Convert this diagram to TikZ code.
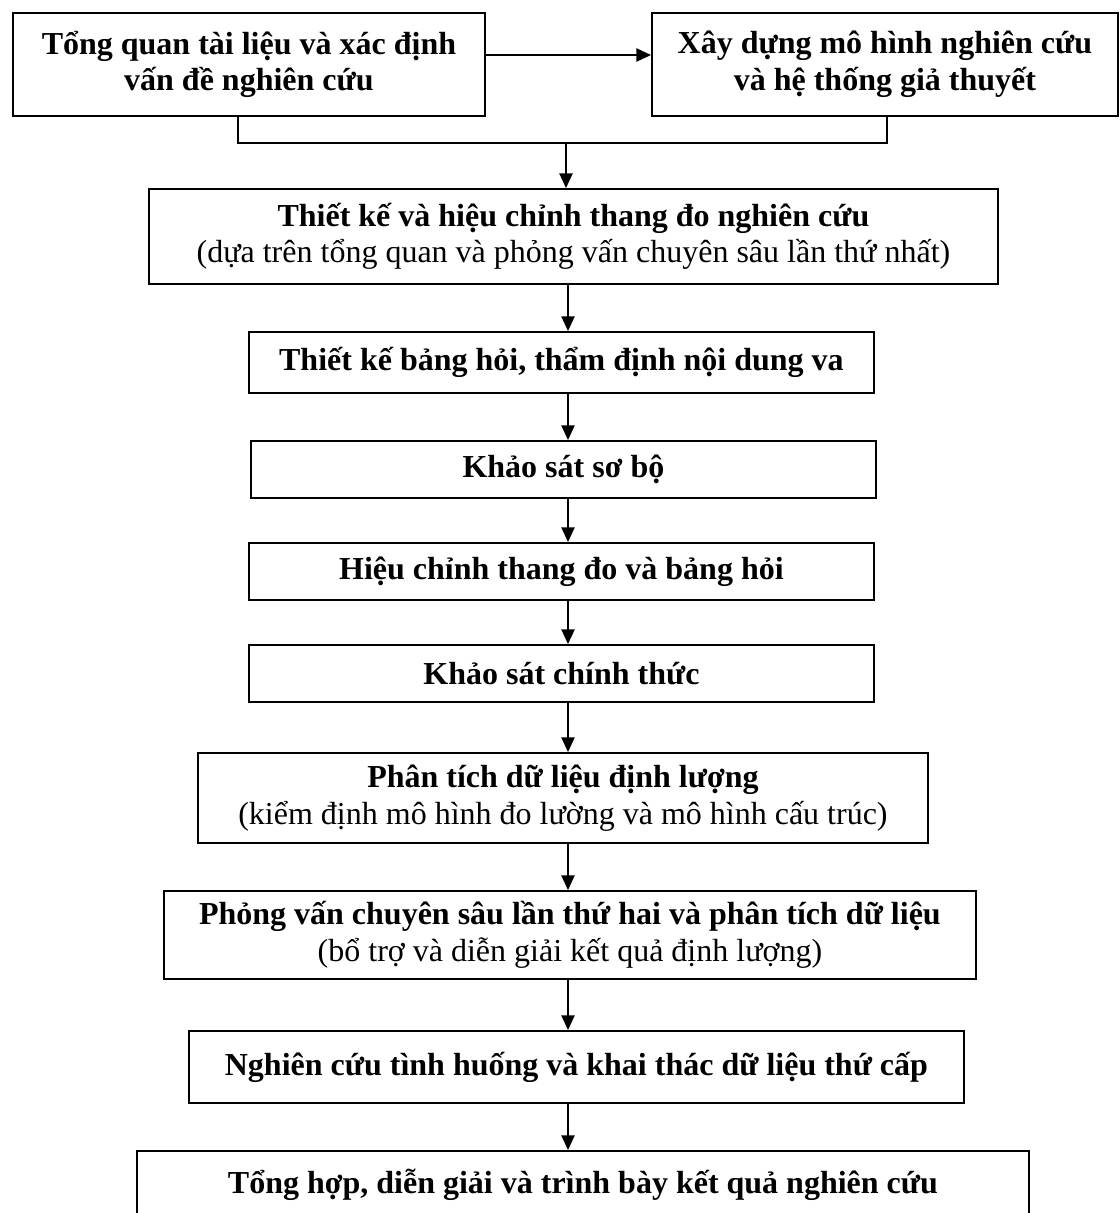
\documentclass[tikz,border=0pt]{standalone}
\usepackage{fontspec}
\setmainfont{Liberation Serif}
\usetikzlibrary{arrows.meta}
\begin{document}
\begin{tikzpicture}[x=0.75pt,y=-0.75pt,
  box/.style={draw, line width=1.4pt, align=center, inner sep=0pt, anchor=north west,
    font=\fontsize{24}{27.5}\selectfont},
  link/.style={line width=1pt},
  arr/.style={line width=1pt, -{Triangle[length=11pt,width=10pt]}}]
\useasboundingbox[fill=white] (0,0) rectangle (1120,1213);
\clip (0,0) rectangle (1120,1213);
\node[box, minimum width=472*0.75pt, minimum height=103*0.75pt] (b1) at (12,12)
  {\textbf{Tổng quan tài liệu và xác định}\\\textbf{vấn đề nghiên cứu}};
\node[box, minimum width=466*0.75pt, minimum height=103*0.75pt] (b2) at (651,12)
  {\textbf{Xây dựng mô hình nghiên cứu}\\\textbf{và hệ thống giả thuyết}};
\node[box, minimum width=849*0.75pt, minimum height=95*0.75pt] (b3) at (148,188)
  {\textbf{Thiết kế và hiệu chỉnh thang đo nghiên cứu}\\(dựa trên tổng quan và phỏng vấn chuyên sâu lần thứ nhất)};
\node[box, minimum width=625*0.75pt, minimum height=61*0.75pt] (b4) at (248,331)
  {\textbf{Thiết kế bảng hỏi, thẩm định nội dung va}};
\node[box, minimum width=625*0.75pt, minimum height=57*0.75pt] (b5) at (250,440)
  {\textbf{Khảo sát sơ bộ}};
\node[box, minimum width=625*0.75pt, minimum height=57*0.75pt] (b6) at (248,542)
  {\textbf{Hiệu chỉnh thang đo và bảng hỏi}};
\node[box, minimum width=625*0.75pt, minimum height=57*0.75pt] (b7) at (248,644)
  {\textbf{Khảo sát chính thức}};
\node[box, minimum width=730*0.75pt, minimum height=90*0.75pt] (b8) at (197,752)
  {\textbf{Phân tích dữ liệu định lượng}\\(kiểm định mô hình đo lường và mô hình cấu trúc)};
\node[box, minimum width=812*0.75pt, minimum height=88*0.75pt] (b9) at (163,890)
  {\textbf{Phỏng vấn chuyên sâu lần thứ hai và phân tích dữ liệu}\\(bổ trợ và diễn giải kết quả định lượng)};
\node[box, minimum width=775*0.75pt, minimum height=72*0.75pt] (b10) at (188,1030)
  {\textbf{Nghiên cứu tình huống và khai thác dữ liệu thứ cấp}};
\node[box, minimum width=892*0.75pt, minimum height=68*0.75pt] (b11) at (136,1150)
  {\textbf{Tổng hợp, diễn giải và trình bày kết quả nghiên cứu}};
% top arrow
\coordinate (ha) at (0,55);
\draw[arr] (b1.east |- ha) -- (b2.west |- ha);
% bracket
\coordinate (jl) at (238,143);
\coordinate (jr) at (887,143);
\coordinate (jm) at (566,143);
\draw[link] (b1.south -| jl) -- (jl) -- (jr) -- (b2.south -| jr);
\draw[arr] (jm) -- (jm |- b3.north);
% chain
\coordinate (col) at (568,0);
\draw[arr] (b3.south -| col) -- (b4.north -| col);
\draw[arr] (b4.south -| col) -- (b5.north -| col);
\draw[arr] (b5.south -| col) -- (b6.north -| col);
\draw[arr] (b6.south -| col) -- (b7.north -| col);
\draw[arr] (b7.south -| col) -- (b8.north -| col);
\draw[arr] (b8.south -| col) -- (b9.north -| col);
\draw[arr] (b9.south -| col) -- (b10.north -| col);
\draw[arr] (b10.south -| col) -- (b11.north -| col);
\end{tikzpicture}
\end{document}
